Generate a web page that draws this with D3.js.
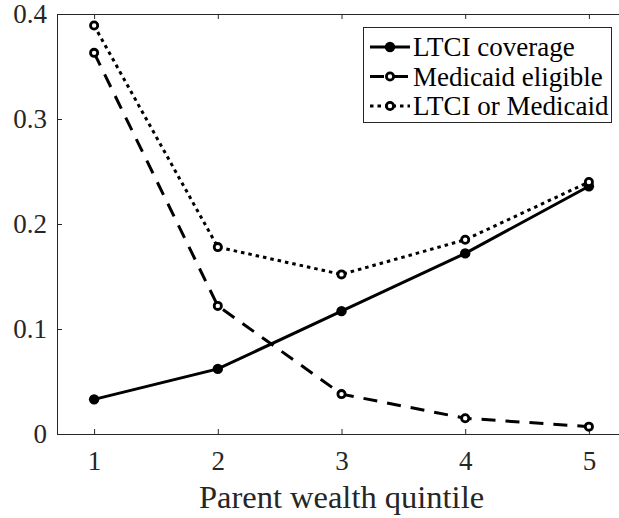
<!DOCTYPE html>
<html>
<head>
<meta charset="utf-8">
<script src="https://cdn.jsdelivr.net/npm/d3@7"></script>
<style>
  html, body { margin: 0; padding: 0; background: #fff; }
  svg { display: block; }
  svg text { font-family: "Liberation Serif", "Times New Roman", serif; }
</style>
</head>
<body>
<div id="chart"></div>
<script>
const QUINTILES = [1, 2, 3, 4, 5];
const LTCI      = [0.033, 0.062, 0.117, 0.172, 0.236];
const MEDICAID  = [0.363, 0.122, 0.038, 0.015, 0.007];
const EITHER    = [0.389, 0.178, 0.152, 0.185, 0.240];
const Y_TICKS   = [0, 0.1, 0.2, 0.3, 0.4];
const Y_LABELS  = ['0', '0.1', '0.2', '0.3', '0.4'];

const SERIES = [
  { name: 'LTCI coverage',     values: LTCI,     dash: null,    hollow: false },
  { name: 'Medicaid eligible', values: MEDICAID, dash: '14,10', hollow: true },
  { name: 'LTCI or Medicaid',  values: EITHER,   dash: '3.5,4', hollow: true }
];

const W = 619, H = 518;
const m = { left: 57, right: -7, top: 14, bottom: 84 }; // axe droit hors cadre
const AXIS = '#262626';
const SERIF = '"Liberation Serif", "Times New Roman", serif';

const svg = d3.select('#chart').append('svg')
  .attr('width', W).attr('height', H);

const x = d3.scaleLinear().domain([0.7, 5.3]).range([m.left, W - m.right]);
const y = d3.scaleLinear().domain([0, 0.4]).range([H - m.bottom, m.top]);

// cadre + graduations (vers l'intérieur, comme MATLAB)
const axisG = svg.append('g');
axisG.append('g')
  .attr('transform', `translate(0,${y(0)})`)
  .call(d3.axisBottom(x).tickValues(QUINTILES).tickSize(-5).tickPadding(17).tickFormat(d3.format('d')));
axisG.append('g')
  .attr('transform', `translate(0,${y(0.4)})`)
  .call(d3.axisTop(x).tickValues(QUINTILES).tickSize(-5).tickFormat(''));
axisG.append('g')
  .attr('transform', `translate(${x(0.7)},0)`)
  .call(d3.axisLeft(y).tickValues(Y_TICKS).tickSize(-5).tickPadding(10)
    .tickFormat((d, i) => Y_LABELS[i]));
axisG.append('g')
  .attr('transform', `translate(${x(5.3)},0)`)
  .call(d3.axisRight(y).tickValues(Y_TICKS).tickSize(-5).tickFormat(''));

axisG.selectAll('g').attr('font-family', SERIF).attr('font-size', 27);
axisG.selectAll('.domain').attr('stroke', AXIS).attr('stroke-width', 1);
axisG.selectAll('.tick line').attr('stroke', AXIS);
axisG.selectAll('.tick text').attr('fill', AXIS);

svg.append('text')
  .attr('x', (x(1) + x(5)) / 2).attr('y', 508)
  .attr('text-anchor', 'middle')
  .attr('fill', AXIS)
  .attr('font-size', 32.5)
  .text('Parent wealth quintile');

// courbes
const line = d3.line().x((d, i) => x(QUINTILES[i])).y(d => y(d));

function drawMarker(g, cx, cy, s) {
  if (s.hollow) {
    g.append('circle').attr('cx', cx).attr('cy', cy).attr('r', 3.6)
      .attr('fill', '#fff').attr('stroke', '#000').attr('stroke-width', 2.8);
  } else {
    g.append('circle').attr('cx', cx).attr('cy', cy).attr('r', 5.2)
      .attr('fill', '#000');
  }
}

SERIES.forEach(s => {
  const g = svg.append('g');
  g.append('path')
    .attr('d', line(s.values))
    .attr('fill', 'none')
    .attr('stroke', '#000')
    .attr('stroke-width', 3)
    .attr('stroke-dasharray', s.dash);
  s.values.forEach((v, i) => drawMarker(g, x(QUINTILES[i]), y(v), s));
});

// légende
const lg = svg.append('g');
lg.append('rect')
  .attr('x', 363.5).attr('y', 27.5).attr('width', 248).attr('height', 95)
  .attr('fill', '#fff').attr('stroke', AXIS).attr('stroke-width', 1);

SERIES.forEach((s, i) => {
  const ly = 47 + i * 29.5;
  lg.append('line')
    .attr('x1', 370).attr('x2', 410).attr('y1', ly).attr('y2', ly)
    .attr('stroke', '#000').attr('stroke-width', 3)
    .attr('stroke-dasharray', s.dash);
  drawMarker(lg, 390, ly, s);
  lg.append('text')
    .attr('x', 413).attr('y', ly + 9)
    .attr('fill', '#000')
    .attr('font-size', 27)
    .text(s.name);
});
</script>
</body>
</html>
